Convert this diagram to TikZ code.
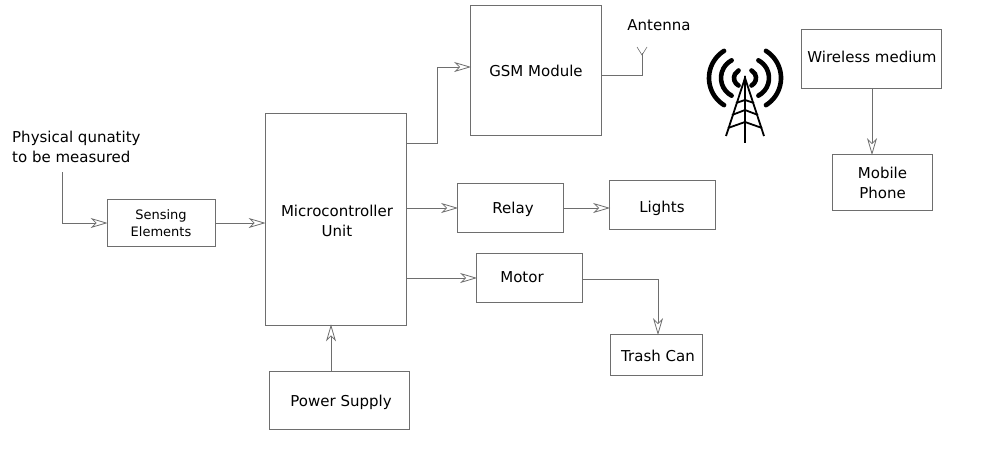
\documentclass[tikz,border=0pt]{standalone}
\usepackage{fontspec}
\setmainfont{DejaVu Sans}
\usepackage{xcolor}
\usetikzlibrary{arrows.meta,calc}
\definecolor{linegray}{HTML}{6e6e6e}
\tikzset{
  blockbox/.style={draw=linegray,line width=.8pt,inner sep=0pt,align=center,font=\fontsize{15}{20}\selectfont},
  link/.style={draw=linegray,line width=.8pt,shorten >=-1pt,-{Stealth[open,length=17pt,width=10pt,inset=5pt,fill=white]}},
  plainlink/.style={draw=linegray,line width=.8pt},
  labeltext/.style={inner sep=0pt,align=left,font=\fontsize{15}{20}\selectfont},
  towerarc/.style={line width=4.6pt,line cap=round},
  towerbar/.style={line width=1.8pt},
}
\begin{document}
\begin{tikzpicture}[x=1pt,y=-1pt]
    \useasboundingbox (0,0) rectangle (987,455);
    % blocks
    \node[blockbox,minimum width=108pt,minimum height=47pt,font=\fontsize{13}{17}\selectfont] (sensing) at (161,223) {Sensing\\Elements};
    \node[blockbox,minimum width=141pt,minimum height=212pt] (mcu) at (335.5,219) {};
    \node[labeltext,align=center] (mcutext) at (337,221) {Microcontroller\\Unit};
    \node[blockbox,minimum width=131pt,minimum height=130pt] (gsm) at (536,70) {};
    \node[labeltext] (gsmtext) at (536,70.5) {GSM Module};
    \node[blockbox,minimum width=106pt,minimum height=49pt] (relay) at (510.5,208) {};
    \node[labeltext] (relaytext) at (513,209.5) {Relay};
    \node[blockbox,minimum width=106pt,minimum height=49pt] (lights) at (662.5,205) {};
    \node[labeltext] (lightstext) at (662,208) {Lights};
    \node[blockbox,minimum width=106pt,minimum height=49pt] (motor) at (529.5,277.5) {};
    \node[labeltext] (motortext) at (522,277.5) {Motor};
    \node[blockbox,minimum width=92pt,minimum height=41pt] (trash) at (656.5,355) {};
    \node[labeltext] (trashtext) at (658,356) {Trash Can};
    \node[blockbox,minimum width=140pt,minimum height=58pt] (power) at (339,400.5) {};
    \node[labeltext] (powertext) at (341,402.5) {Power Supply};
    \node[blockbox,minimum width=140pt,minimum height=59pt] (wireless) at (871,59) {};
    \node[labeltext] (wirelesstext) at (872,57) {Wireless medium};
    \node[blockbox,minimum width=100pt,minimum height=56pt] (phone) at (882.5,182.5) {Mobile\\Phone};
    % labels
    \node[labeltext,anchor=north west] (quantity) at (12,131) {Physical qunatity\\to be measured};
    \node[labeltext] (antennatext) at (659,25) {Antenna};
    % connectors
    \coordinate (qstart) at (62,172);
    \coordinate (gsmout) at (406,143);
    \coordinate (antfoot) at (642,75);
    \coordinate (anttop) at (642,53);
    \coordinate (mculow) at (406,278);
    \coordinate (motorout) at (582,279);
    \draw[link] (qstart) |- (sensing.west);
    \draw[link] (sensing.east) -- (sensing.east -| mcu.west);
    \draw[link] (gsmout) -- (437,143) -- (437,67) -- (gsm.west |- 0,67);
    \draw[link] (mcu.east |- relay.west) -- (relay.west);
    \draw[link] (relay.east) -- (lights.west |- relay.east);
    \draw[link] (mculow) -- (mculow -| motor.west);
    \draw[link] (motorout) -| (trash.north -| 658,0);
    \draw[link] (power.north -| 331,0) -- (mcu.south -| 331,0);
    \draw[link] (wireless.south -| 872,0) -- (phone.north -| 872,0);
    \draw[plainlink] (gsm.east |- antfoot) -- (antfoot) -- (anttop);
    \draw[plainlink,line width=.6pt] (637,47) -- (642,55) -- (647,47);
    % tower
    \foreach \r/\a/\c in {8.5/62/2.5,20/62/4,32/58/4} {
        \draw[towerarc] (745-\c,78) ++(180-\a:\r) arc (180-\a:180+\a:\r);
        \draw[towerarc] (745+\c,78) ++(\a:\r) arc (\a:-\a:\r);
    }
    \draw[towerbar] (726,136) -- (745,78) -- (764,136);
    \draw[towerbar,line width=2.6pt] (745,76) -- (745,143);
    \draw[towerbar] (736,103) -- (745,100) -- (754,103);
    \draw[towerbar] (732,115) -- (745,110) -- (758,115);
    \draw[towerbar] (728,128) -- (745,122) -- (762,128);
\end{tikzpicture}
\end{document}
